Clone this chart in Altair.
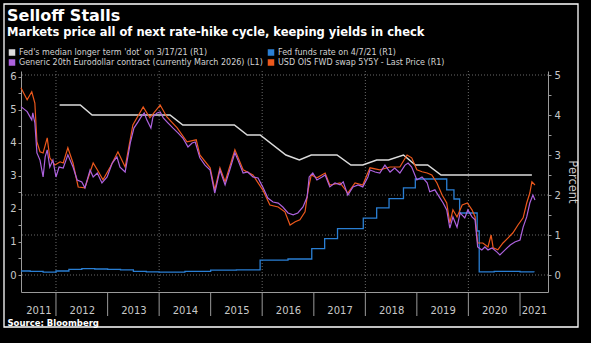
import altair as alt
import pandas as pd
import datetime as dt

# ---------------- data (decimal years / percent) ----------------
ed_t = [2011.32, 2011.44, 2011.53, 2011.55, 2011.59, 2011.63, 2011.69, 2011.75, 2011.79, 2011.83, 2011.88, 2011.94,
        2012.00, 2012.06, 2012.14, 2012.23, 2012.33, 2012.41, 2012.50, 2012.56, 2012.66, 2012.72, 2012.80, 2012.89, 2012.99,
        2013.09, 2013.18, 2013.24, 2013.34, 2013.44, 2013.51, 2013.59, 2013.65, 2013.71, 2013.76, 2013.84, 2013.88, 2013.96,
        2014.02, 2014.08, 2014.17, 2014.27, 2014.37, 2014.46, 2014.56, 2014.64, 2014.70, 2014.79, 2014.89, 2014.99,
        2015.08, 2015.18, 2015.28, 2015.37, 2015.47, 2015.53, 2015.63, 2015.72, 2015.82, 2015.92,
        2016.01, 2016.11, 2016.21, 2016.31, 2016.40, 2016.50, 2016.60, 2016.69, 2016.79, 2016.87, 2016.91, 2016.98,
        2017.06, 2017.16, 2017.22, 2017.31, 2017.41, 2017.51, 2017.57, 2017.66, 2017.76, 2017.86, 2017.95,
        2018.05, 2018.09, 2018.19, 2018.28, 2018.38, 2018.48, 2018.57, 2018.67, 2018.77, 2018.83, 2018.90,
        2019.00, 2019.10, 2019.20, 2019.25, 2019.35, 2019.45, 2019.51, 2019.58, 2019.64, 2019.70, 2019.78, 2019.84, 2019.93, 2019.99,
        2020.07, 2020.13, 2020.18, 2020.26, 2020.32, 2020.38, 2020.46, 2020.55, 2020.61, 2020.71, 2020.81, 2020.90,
        2021.00, 2021.06, 2021.13, 2021.19, 2021.25, 2021.29]
ed_v = [5.10, 4.95, 4.70, 4.91, 4.61, 3.70, 3.48, 2.97, 3.58, 3.79, 3.27, 3.48,
        2.97, 3.27, 3.24, 3.64, 3.27, 2.88, 2.82, 2.64, 3.18, 2.97, 3.09, 2.79, 2.97,
        3.39, 3.58, 3.27, 3.12, 4.00, 4.45, 4.64, 4.79, 4.91, 4.70, 4.45, 4.79, 4.91,
        4.94, 4.76, 4.61, 4.45, 4.30, 4.15, 3.88, 4.00, 4.03, 3.55, 3.33, 3.18,
        2.48, 3.18, 2.73, 3.18, 3.70, 3.48, 3.09, 3.12, 2.97, 2.94,
        2.67, 2.33, 2.21, 2.18, 2.06, 1.88, 1.82, 1.88, 2.06, 2.36, 2.97, 3.09,
        2.88, 2.97, 3.03, 2.67, 2.79, 2.73, 2.82, 2.42, 2.67, 2.73, 2.67,
        2.97, 3.18, 3.12, 3.09, 3.33, 3.12, 3.24, 3.09, 3.33, 3.39, 3.27,
        2.88, 2.97, 2.79, 2.52, 2.58, 2.33, 2.18, 1.97, 1.42, 1.76, 1.45, 1.88, 1.73, 1.97,
        1.76, 1.67, 0.85, 0.76, 0.85, 0.76, 0.82, 0.70, 0.61, 0.76, 0.91, 1.00,
        1.06, 1.45, 1.76, 2.18, 2.42, 2.27]

ois_t = [2011.32, 2011.44, 2011.53, 2011.59, 2011.63, 2011.69, 2011.75, 2011.83, 2011.88, 2011.98,
         2012.08, 2012.14, 2012.23, 2012.33, 2012.43, 2012.56, 2012.72, 2012.80, 2012.91,
         2013.05, 2013.20, 2013.34, 2013.49, 2013.69, 2013.82,
         2014.02, 2014.15, 2014.35, 2014.54, 2014.72, 2014.79, 2014.99,
         2015.08, 2015.18, 2015.28, 2015.47, 2015.63, 2015.82,
         2016.01, 2016.15, 2016.31, 2016.44, 2016.54, 2016.64, 2016.73, 2016.83, 2016.89, 2016.95,
         2017.06, 2017.22, 2017.31, 2017.51, 2017.66, 2017.80, 2017.95,
         2018.09, 2018.28, 2018.48, 2018.67, 2018.81, 2018.90,
         2019.00, 2019.10, 2019.20, 2019.29, 2019.39, 2019.49, 2019.58, 2019.64, 2019.70, 2019.78, 2019.88, 2019.98,
         2020.07, 2020.13, 2020.18, 2020.28, 2020.38, 2020.44, 2020.48, 2020.57, 2020.67, 2020.77, 2020.86, 2020.96,
         2021.06, 2021.13, 2021.19, 2021.23, 2021.29]
ois_v = [4.68, 4.38, 4.58, 4.30, 3.33, 3.08, 3.05, 3.43, 2.93, 2.75,
         2.83, 2.80, 3.18, 2.80, 2.20, 2.18, 2.80, 2.63, 2.38,
         2.70, 3.08, 2.70, 3.75, 4.20, 3.93,
         4.25, 3.95, 3.68, 3.33, 3.38, 3.00, 2.68,
         2.13, 2.68, 2.33, 3.13, 2.63, 2.50,
         2.13, 1.75, 1.70, 1.58, 1.25, 1.33, 1.38, 1.58, 2.13, 2.50,
         2.43, 2.55, 2.25, 2.30, 2.05, 2.30, 2.25,
         2.68, 2.63, 2.70, 2.70, 3.00, 2.93,
         2.63, 2.58, 2.55, 2.50, 2.30, 2.00, 1.80, 1.30, 1.63, 1.45, 1.75, 1.80,
         1.63, 1.45, 0.80, 0.80, 0.70, 1.00, 0.68, 0.63, 0.80, 0.93, 1.05, 1.25,
         1.43, 1.80, 2.05, 2.33, 2.25]

ff_t = [2011.32, 2011.5, 2011.75, 2012.0, 2012.25, 2012.5, 2012.75, 2013.0, 2013.25, 2013.5, 2013.75,
        2014.0, 2014.5, 2015.0, 2015.5, 2015.96, 2016.5, 2016.96, 2017.21, 2017.46, 2017.96,
        2018.22, 2018.46, 2018.74, 2018.97, 2019.58, 2019.72, 2019.83, 2020.17, 2020.21, 2020.5, 2021.0, 2021.27]
ff_v = [0.10, 0.09, 0.07, 0.10, 0.14, 0.16, 0.15, 0.14, 0.13, 0.09, 0.08,
        0.07, 0.09, 0.12, 0.13, 0.37, 0.40, 0.66, 0.91, 1.16, 1.42,
        1.68, 1.91, 2.18, 2.40, 2.13, 1.90, 1.55, 1.10, 0.08, 0.09, 0.08, 0.07]

dot_t = [2012.07, 2012.47, 2012.70, 2014.21, 2014.46, 2015.46, 2015.71, 2015.96, 2016.46, 2016.72, 2016.95,
         2017.45, 2017.72, 2017.95, 2018.22, 2018.45, 2018.74, 2018.97, 2019.21, 2019.47, 2021.23]
dot_v = [4.25, 4.25, 4.0, 4.0, 3.75, 3.75, 3.5, 3.5, 3.0, 2.875, 3.0,
         3.0, 2.75, 2.75, 2.875, 2.875, 3.0, 2.75, 2.75, 2.5, 2.5]

# legend order (filled column by column)
series_names = [
    "Fed's median longer term 'dot' on 3/17/21 (R1)",
    "Generic 20th Eurodollar contract (currently March 2026) (L1)",
    "Fed funds rate on 4/7/21 (R1)",
    "USD OIS FWD swap 5Y5Y - Last Price (R1)",
]
series_colors = ["#dcdcdc", "#ad62de", "#2a7fd4", "#ec581c"]

year_label_pos = [2011.66, 2012.5, 2013.5, 2014.5, 2015.5, 2016.5, 2017.5, 2018.5, 2019.5, 2020.5, 2021.27]
year_bounds = [2012, 2013, 2014, 2015, 2016, 2017, 2018, 2019, 2020, 2021]
grid_years = [2012, 2014, 2016, 2018, 2020]
grid_right = [0, 1, 2, 5]
left_ticks = [i * 0.5 for i in range(13)]
right_ticks = [i * 0.5 for i in range(11)]
x_range = [2011.321, 2021.543]
left_domain = [-0.515, 6.18]
right_domain = [-0.425, 5.1]


def to_ms(y):
    yr = int(y)
    start = dt.datetime(yr, 1, 1)
    end = dt.datetime(yr + 1, 1, 1)
    d = start + (end - start) * (y - yr)
    return int((d - dt.datetime(1970, 1, 1)).total_seconds() * 1000)


def frame(ts, vs, name):
    return pd.DataFrame({"t": [to_ms(a) for a in ts], "v": vs, "s": name})


FONT = "DejaVu Sans"
AX = "#9a9a9a"
LC = "#c8c8c8"
GRID = "#6a6a6a"
W, H = 527, 221
INT_LABEL = "datum.value % 1 == 0 ? format(datum.value, 'd') : ''"

x_axis = alt.Axis(values=[to_ms(v) for v in year_label_pos],
                  labelExpr="utcFormat(datum.value, '%Y')",
                  ticks=False, tickSize=0, labelPadding=13, labelFlush=False, labelOverlap=False,
                  domainColor=AX, labelColor=LC, labelFontSize=10, labelFont=FONT, grid=False,
                  title="Source: Bloomberg", titleX=-14, titleY=33, titleAlign="left",
                  titleBaseline="alphabetic", titleFontSize=8.5, titleFontWeight="bold",
                  titleColor="white", titleFont=FONT, titleAngle=0)
X = alt.X("t:T", scale=alt.Scale(domain=[to_ms(x_range[0]), to_ms(x_range[1])]), axis=x_axis)

yR_axis = alt.Axis(orient="right", values=right_ticks, labelExpr=INT_LABEL,
                   tickSize=3, tickColor=AX, domainColor=AX, labelColor=LC, labelFontSize=10,
                   labelFont=FONT, labelPadding=3, labelOverlap=False, grid=False,
                   title="Percent", titleColor=LC, titleFontSize=11.5, titleFontWeight="normal",
                   titleFont=FONT, titlePadding=6)
YR = alt.Y("v:Q", scale=alt.Scale(domain=right_domain, nice=False, zero=False), axis=yR_axis)

yL_axis = alt.Axis(orient="left", values=left_ticks, labelExpr=INT_LABEL,
                   tickSize=3, tickColor=AX, domainColor=AX, labelColor=LC, labelFontSize=10,
                   labelFont=FONT, labelPadding=2, labelOverlap=False, grid=False, title=None)
YL = alt.Y("v:Q", scale=alt.Scale(domain=left_domain, nice=False, zero=False), axis=yL_axis)

cscale = alt.Scale(domain=series_names, range=series_colors)
legend = alt.Legend(orient="none", legendX=-13, legendY=-23, columns=2, columnPadding=4, rowPadding=1,
                    clipHeight=9, gridAlign="each",
                    symbolType="square", symbolSize=9, symbolStrokeWidth=3.5, labelFontSize=8,
                    labelColor="#d2d2d2", labelFont=FONT, labelLimit=600, title=None, padding=0,
                    labelOffset=3)
C = alt.Color("s:N", scale=cscale, legend=legend)

hgrid = alt.Chart(pd.DataFrame({"v": grid_right})).mark_rule(
    color=GRID, strokeDash=[1, 2], strokeWidth=1).encode(y=YR)
vgrid = alt.Chart(pd.DataFrame({"t": [to_ms(y) for y in grid_years]})).mark_rule(
    color=GRID, strokeDash=[1, 2], strokeWidth=1).encode(x=X)
yticks = alt.Chart(pd.DataFrame({"t": [to_ms(y) for y in year_bounds]})).mark_rule(
    color=AX, strokeWidth=1).encode(x=X, y=alt.value(H), y2=alt.value(H + 24))
border = alt.Chart(pd.DataFrame({"k": [0]})).mark_rect(
    fillOpacity=0, stroke="white", strokeWidth=1.3).encode(
    x=alt.value(-17), x2=alt.value(557), y=alt.value(-67), y2=alt.value(256))

dot_line = alt.Chart(frame(dot_t, dot_v, series_names[0])).mark_line(strokeWidth=1.5).encode(
    x=X, y=YR, color=C)
ff_line = alt.Chart(frame(ff_t, ff_v, series_names[2])).mark_line(
    strokeWidth=1.3, interpolate="step-after").encode(x=X, y=YR, color=C)
ois_line = alt.Chart(frame(ois_t, ois_v, series_names[3])).mark_line(strokeWidth=1.2).encode(
    x=X, y=YR, color=C)
ed_line = alt.Chart(frame(ed_t, ed_v, series_names[1])).mark_line(strokeWidth=1.2).encode(
    x=X, y=YL, color=C)

right_group = alt.layer(hgrid, vgrid, yticks, border, dot_line, ff_line, ois_line)
left_group = alt.layer(ed_line)

chart = alt.layer(right_group, left_group).resolve_scale(y="independent").properties(
    width=W, height=H,
    title=alt.TitleParams(
        text="Selloff Stalls",
        subtitle="Markets price all of next rate-hike cycle, keeping yields in check",
        anchor="start", frame="group", dx=-14, dy=41, color="white", fontSize=16, font=FONT,
        fontWeight="bold", subtitleColor="white", subtitleFontSize=11.5, subtitleFont=FONT,
        subtitleFontWeight="bold", subtitlePadding=3, offset=6),
    background="black",
    padding={"left": 21, "top": 71, "right": 43, "bottom": 51},
    autosize=alt.AutoSizeParams(type="none"),
).configure_view(stroke=None)

chart.save("out.html", embed_options={"renderer": "svg", "actions": False})
